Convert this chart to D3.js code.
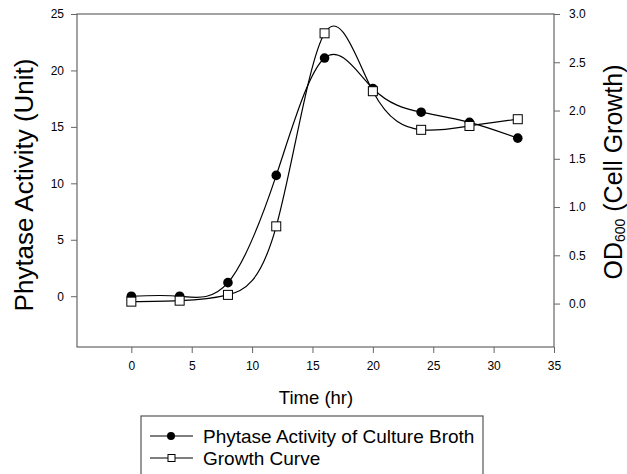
<!DOCTYPE html>
<html>
<head>
<meta charset="utf-8">
<script src="https://cdn.jsdelivr.net/npm/d3@7"></script>
<style>
  body { margin: 0; background: #fff; }
  svg { display: block; font-family: "Liberation Sans", Arial, sans-serif; }
  .axis path, .axis line { stroke: #666; }
  .axis text { fill: #000; font-size: 12px; }
</style>
</head>
<body>
<svg id="chart" width="627" height="474"></svg>
<script>
const hours = [0, 4, 8, 12, 16, 20, 24, 28, 32];
const phytase = [0, 0, 1.2, 10.7, 21.1, 18.4, 16.3, 15.4, 14.0];
const growth = [0.02, 0.03, 0.09, 0.80, 2.80, 2.20, 1.80, 1.84, 1.91];
const xTicks = [0, 5, 10, 15, 20, 25, 30, 35];
const leftTicks = [0, 5, 10, 15, 20, 25];
const rightTicks = [0, 0.5, 1.0, 1.5, 2.0, 2.5, 3.0];
const legendLabels = ['Phytase Activity of Culture Broth', 'Growth Curve'];

const svg = d3.select('#chart');
const m = { left: 77, right: 554, top: 14, bottom: 347 };

const x = d3.scaleLinear().domain([-4.5, 35]).range([m.left, m.right]);
const yL = d3.scaleLinear().domain([-4.5, 25]).range([m.bottom, m.top]);
const yR = d3.scaleLinear().domain([-0.45, 3.0]).range([m.bottom, m.top]);

// frame
svg.append('rect')
  .attr('x', m.left).attr('y', m.top)
  .attr('width', m.right - m.left).attr('height', m.bottom - m.top)
  .attr('fill', 'none').attr('stroke', '#666').attr('stroke-width', 1.2);

svg.append('g')
  .attr('class', 'axis')
  .attr('transform', `translate(0,${m.bottom})`)
  .call(d3.axisBottom(x).tickValues(xTicks).tickSize(6).tickPadding(8).tickSizeOuter(0))
  .call(g => g.select('.domain').remove());

svg.append('g')
  .attr('class', 'axis')
  .attr('transform', `translate(${m.left},0)`)
  .call(d3.axisLeft(yL).tickValues(leftTicks).tickSize(6).tickPadding(7).tickSizeOuter(0))
  .call(g => g.select('.domain').remove());

svg.append('g')
  .attr('class', 'axis')
  .attr('transform', `translate(${m.right},0)`)
  .call(d3.axisRight(yR).tickValues(rightTicks).tickFormat(d3.format('.1f')).tickSize(6).tickPadding(9).tickSizeOuter(0))
  .call(g => g.select('.domain').remove());

// titles
svg.append('text')
  .attr('transform', 'translate(33,185) rotate(-90)')
  .attr('text-anchor', 'middle')
  .style('font-size', '26px')
  .text('Phytase Activity (Unit)');

const rt = svg.append('text')
  .attr('transform', 'translate(622,172) rotate(-90)')
  .attr('text-anchor', 'middle')
  .style('font-size', '25px');
rt.append('tspan').text('OD');
rt.append('tspan').attr('dy', 3).style('font-size', '14px').text('600');
rt.append('tspan').attr('dy', -3).text(' (Cell Growth)');

svg.append('text')
  .attr('x', 316).attr('y', 404)
  .attr('text-anchor', 'middle')
  .style('font-size', '18.5px')
  .text('Time (hr)');

// series
const pts = hours.map((h, i) => ({ h, p: phytase[i], g: growth[i] }));

svg.append('path')
  .datum(pts)
  .attr('fill', 'none').attr('stroke', '#000').attr('stroke-width', 1.2)
  .attr('d', d3.line().x(d => x(d.h)).y(d => yL(d.p)).curve(d3.curveNatural));

svg.append('path')
  .datum(pts)
  .attr('fill', 'none').attr('stroke', '#000').attr('stroke-width', 1.2)
  .attr('d', d3.line().x(d => x(d.h)).y(d => yR(d.g)).curve(d3.curveNatural));

svg.selectAll('circle.pt')
  .data(pts)
  .enter()
  .append('circle')
  .attr('class', 'pt')
  .attr('cx', d => x(d.h)).attr('cy', d => yL(d.p))
  .attr('r', 4.8)
  .attr('fill', '#000');

svg.selectAll('rect.pt')
  .data(pts)
  .enter()
  .append('rect')
  .attr('class', 'pt')
  .attr('x', d => x(d.h) - 4.5).attr('y', d => yR(d.g) - 4.5)
  .attr('width', 9).attr('height', 9)
  .attr('fill', '#fff').attr('stroke', '#000').attr('stroke-width', 1);

// legend
const lg = svg.append('g').attr('transform', 'translate(141,416)');
lg.append('rect')
  .attr('width', 342).attr('height', 70)
  .attr('fill', '#fff').attr('stroke', '#555').attr('stroke-width', 1.2);

legendLabels.forEach((label, i) => {
  const cy = 20 + i * 22;
  lg.append('line')
    .attr('x1', 9).attr('x2', 52).attr('y1', cy).attr('y2', cy)
    .attr('stroke', '#000').attr('stroke-width', 1.2);
  if (i === 0) {
    lg.append('circle').attr('cx', 30).attr('cy', cy).attr('r', 4).attr('fill', '#000');
  } else {
    lg.append('rect').attr('x', 27).attr('y', cy - 3.5).attr('width', 7).attr('height', 7)
      .attr('fill', '#fff').attr('stroke', '#000').attr('stroke-width', 1);
  }
  lg.append('text')
    .attr('x', 62).attr('y', cy + 7)
    .style('font-size', '19px')
    .text(label);
});
</script>
</body>
</html>
